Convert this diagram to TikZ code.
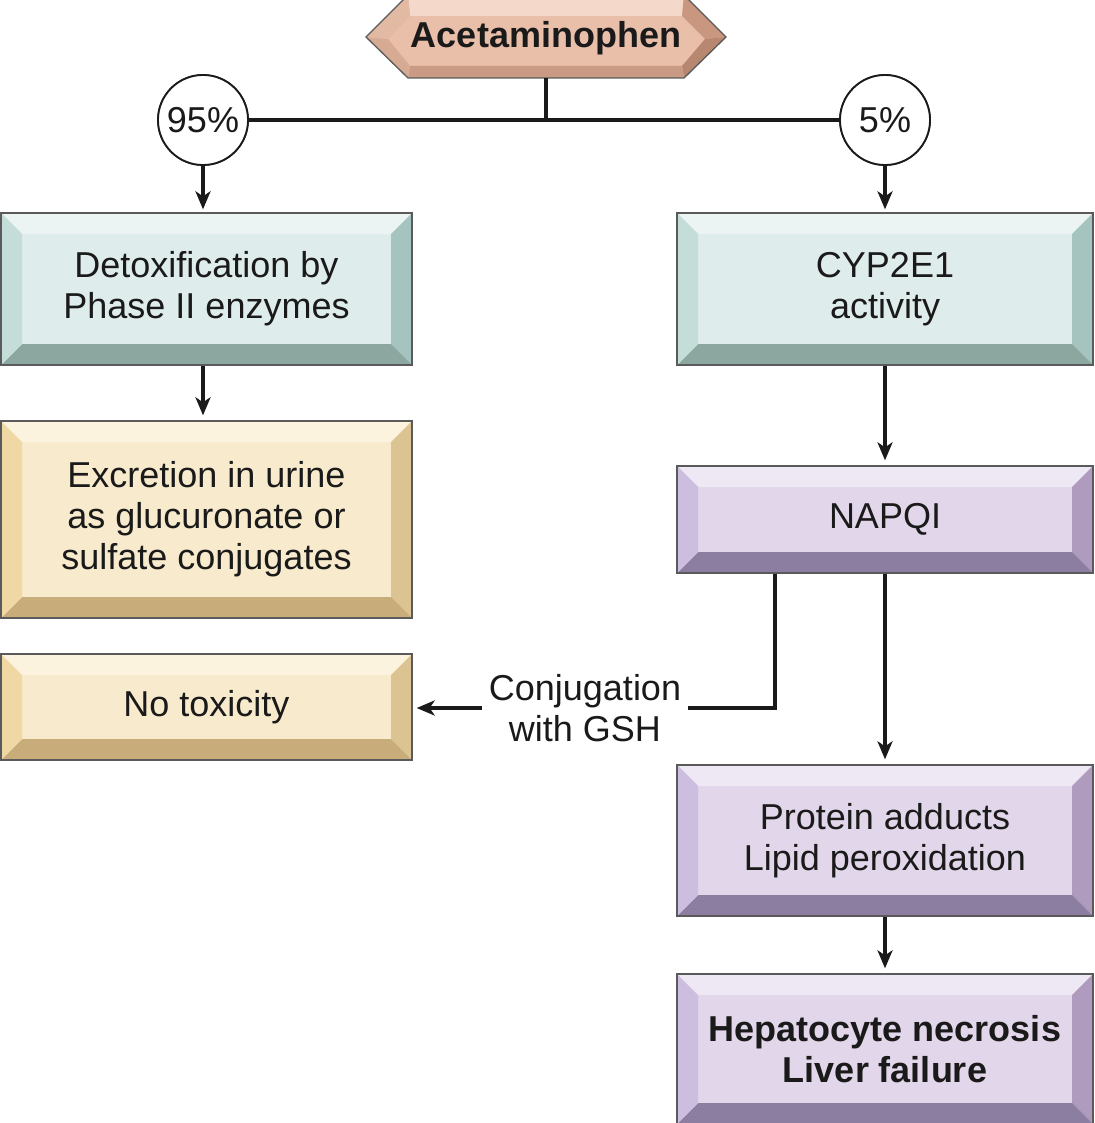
\documentclass[tikz,border=0pt]{standalone}
\usepackage{fontspec}
\setmainfont{Liberation Sans}
\usetikzlibrary{arrows.meta,calc}
\definecolor{txt}{HTML}{1A1A1A}
\definecolor{edgegray}{HTML}{5A5A5A}
% teal
\definecolor{tealF}{HTML}{DEECEB}
\definecolor{tealT}{HTML}{EBF4F3}
\definecolor{tealL}{HTML}{C5DDD9}
\definecolor{tealR}{HTML}{A6C4BF}
\definecolor{tealB}{HTML}{8CA6A0}
% yellow
\definecolor{yelF}{HTML}{F8EACC}
\definecolor{yelT}{HTML}{FBF3DE}
\definecolor{yelL}{HTML}{F0D8A4}
\definecolor{yelR}{HTML}{DCC492}
\definecolor{yelB}{HTML}{C8AC7A}
% purple
\definecolor{purF}{HTML}{E2D6EA}
\definecolor{purT}{HTML}{EEE8F5}
\definecolor{purL}{HTML}{CCBEDE}
\definecolor{purR}{HTML}{AF9BBE}
\definecolor{purB}{HTML}{8C7EA0}
% salmon hexagon
\definecolor{salF}{HTML}{E9BFAA}
\definecolor{salT}{HTML}{F4D9CB}
\definecolor{salUL}{HTML}{E2B9A3}
\definecolor{salLL}{HTML}{D6AA93}
\definecolor{salB}{HTML}{C99A84}
\definecolor{salLR}{HTML}{B8876F}
\definecolor{salUR}{HTML}{C9977F}
\newcommand\bxfont{\fontsize{36}{41}\selectfont}
\def\bw{21pt}
\tikzset{
  bev/.style={rectangle, draw=edgegray, line width=1.3pt, fill=#1F,
    text=txt, font=\bxfont, align=center, inner sep=0pt,
    path picture={
      \path (path picture bounding box.north west) coordinate (pa)
            (path picture bounding box.north east) coordinate (pb)
            (path picture bounding box.south east) coordinate (pc)
            (path picture bounding box.south west) coordinate (pd)
            ([shift={(\bw,-\bw)}]path picture bounding box.north west) coordinate (qa)
            ([shift={(-\bw,-\bw)}]path picture bounding box.north east) coordinate (qb)
            ([shift={(-\bw,\bw)}]path picture bounding box.south east) coordinate (qc)
            ([shift={(\bw,\bw)}]path picture bounding box.south west) coordinate (qd);
      \fill[#1T] (pa)--(pb)--(qb)--(qa)--cycle;
      \fill[#1R] (pb)--(pc)--(qc)--(qb)--cycle;
      \fill[#1B] (pc)--(pd)--(qd)--(qc)--cycle;
      \fill[#1L] (pd)--(pa)--(qa)--(qd)--cycle;
    }},
  pct/.style={circle, draw=txt, line width=1.8pt, fill=white, minimum size=90pt,
    inner sep=0pt, text=txt, font=\bxfont},
  conn/.style={draw=txt, line width=3.8pt},
  arr/.style={conn, -{Stealth[length=18pt,width=15pt,inset=5pt]}, shorten >=3pt},
}
\begin{document}
\begin{tikzpicture}[x=1pt,y=-1pt]
\useasboundingbox (0,0) rectangle (1094,1123);
% hexagon with bevel
\fill[salF] (366,37)--(408,-5)--(684,-5)--(726,37)--(684,78)--(408,78)--cycle;
\fill[salT] (408,-5)--(684,-5)--(682,16)--(410,16)--cycle;
\fill[salUR] (684,-5)--(726,37)--(705,39)--(682,16)--cycle;
\fill[salLR] (726,37)--(684,78)--(682,66)--(705,39)--cycle;
\fill[salB] (684,78)--(408,78)--(410,66)--(682,66)--cycle;
\fill[salLL] (408,78)--(366,37)--(388,39)--(410,66)--cycle;
\fill[salUL] (366,37)--(408,-5)--(410,16)--(388,39)--cycle;
\draw[edgegray, line width=1.3pt] (366,37)--(408,-5)--(684,-5)--(726,37)--(684,78)--(408,78)--cycle;
\node[text=txt, font=\bxfont\bfseries] (acet) at (546,38) {Acetaminophen};
\coordinate (hexb) at (546,78);

% percentage branch
\node[pct] (c95) at (203,120) {95\%};
\node[pct] (c5) at (885,120) {5\%};
\draw[conn] (c95.east) -- (c5.west);
\draw[conn] (hexb) -- (hexb |- c95.center);
\node[pct] at (c95) {95\%};
\node[pct] at (c5) {5\%};

% boxes
\node[bev=teal, minimum width=411pt, minimum height=152pt] (detox) at (206.5,289) {Detoxification by\\Phase II enzymes};
\node[bev=yel, minimum width=411pt, minimum height=197pt] (excr) at (206.5,519.5) {Excretion in urine\\as glucuronate or\\sulfate conjugates};
\node[bev=yel, minimum width=411pt, minimum height=106pt] (notox) at (206.5,707) {No toxicity};
\node[bev=teal, minimum width=416pt, minimum height=152pt] (cyp) at (885,289) {CYP2E1\\activity};
\node[bev=pur, minimum width=416pt, minimum height=107pt] (napqi) at (885,519.5) {NAPQI};
\node[bev=pur, minimum width=416pt, minimum height=151pt] (prot) at (885,840.5) {Protein adducts\\Lipid peroxidation};
\node[bev=pur, minimum width=416pt, minimum height=150pt, font=\bxfont\bfseries] (hep) at (885,1049) {Hepatocyte necrosis\\Liver failure};

\node[text=txt, font=\bxfont, align=center, inner xsep=7pt, inner ysep=0pt] (conj) at (585,708) {Conjugation\\with GSH};

% connectors
\draw[arr] (c95.south) -- (c95.south |- detox.north);
\draw[arr] (c5.south) -- (c5.south |- cyp.north);
\draw[arr, shorten >=5pt] (c95.south |- detox.south) -- (c95.south |- excr.north);
\draw[arr, shorten >=5pt] (cyp.south) -- (napqi.north);
\draw[conn] ([xshift=-110pt]napqi.south) |- (conj.east);
\draw[arr, shorten >=4pt] (conj.west) -- (conj.west -| notox.east);
\draw[arr, shorten >=5pt] (napqi.south) -- (prot.north);
\draw[arr, shorten >=5pt] (prot.south) -- (hep.north);
\end{tikzpicture}
\end{document}
